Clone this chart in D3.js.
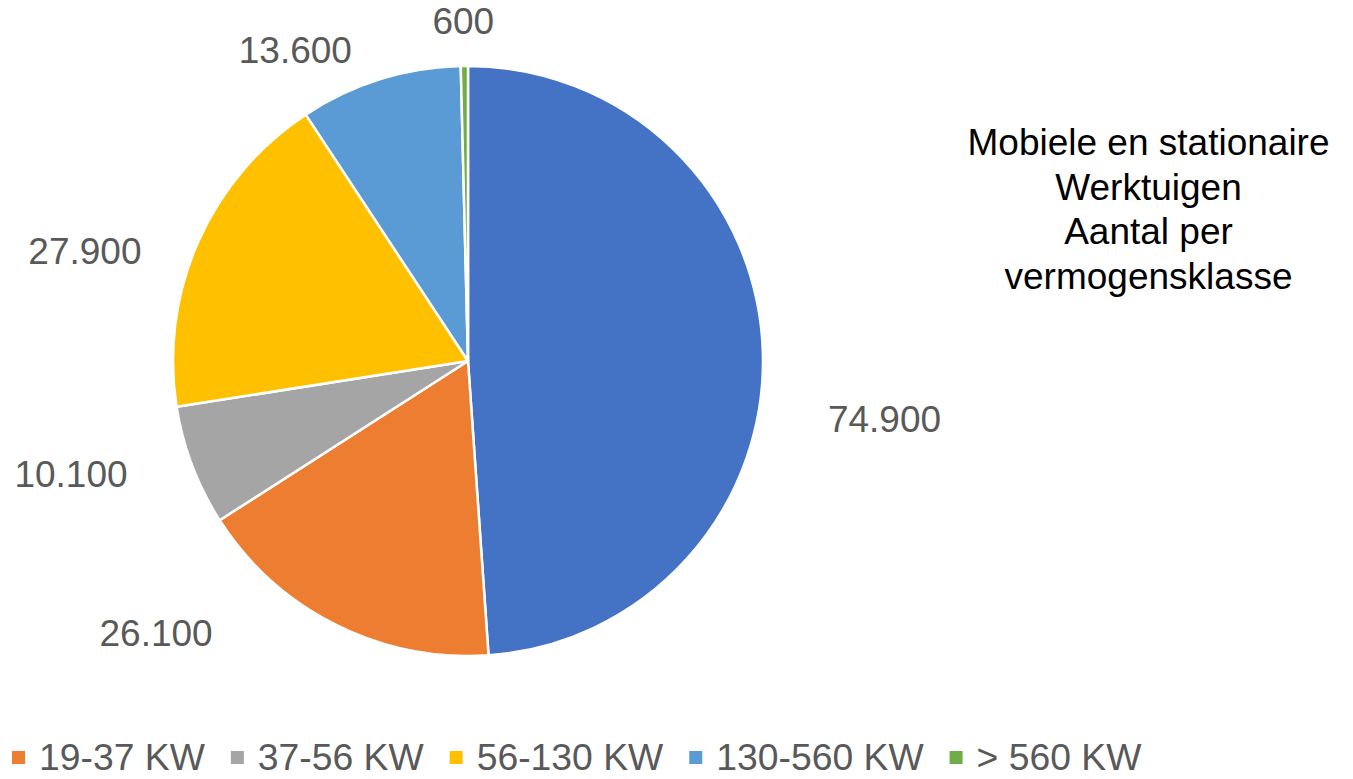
<!DOCTYPE html>
<html>
<head>
<meta charset="utf-8">
<script src="https://cdn.jsdelivr.net/npm/d3@7"></script>
<style>
  html, body { margin: 0; padding: 0; background: #fff; }
  svg { display: block; }
  text { font-family: "Liberation Sans", Arial, sans-serif; }
</style>
</head>
<body>
<svg id="chart" width="1353" height="779"></svg>
<script>
// ---- data ----
const categories = ["< 19 KW", "19-37 KW", "37-56 KW", "56-130 KW", "130-560 KW", "> 560 KW"];
const values = [74900, 26100, 10100, 27900, 13600, 600];
const valueLabels = ["74.900", "26.100", "10.100", "27.900", "13.600", "600"];
const legendCategories = ["19-37 KW", "37-56 KW", "56-130 KW", "130-560 KW", "> 560 KW"];
const titleLines = ["Mobiele en stationaire", "Werktuigen", "Aantal per", "vermogensklasse"];

// ---- layout / style ----
const colors = ["#4472C4", "#ED7D31", "#A5A5A5", "#FFC000", "#5B9BD5", "#70AD47"];
const cx = 468, cy = 361, radius = 295;
// label placement (angle in degrees clockwise from top, distance from centre)
const labelAngle = [97.9, 228.9, 254.1, 286.0, 331.0, 359.2];
const labelDist = [420.5, 413.9, 412.8, 398.5, 356.1, 339.5];

const svg = d3.select("#chart");
const color = d3.scaleOrdinal().domain(categories).range(colors);

const pie = d3.pie().sort(null).value(d => d.value).startAngle(0).endAngle(2 * Math.PI);
const data = categories.map((c, i) => ({ cat: c, value: values[i], label: valueLabels[i], i }));
const arcs = pie(data);
const arc = d3.arc().innerRadius(0).outerRadius(radius);

const g = svg.append("g").attr("transform", `translate(${cx},${cy})`);
g.selectAll("path.slice")
  .data(arcs)
  .join("path")
  .attr("class", "slice")
  .attr("d", arc)
  .attr("fill", d => color(d.data.cat))
  .attr("stroke", "#fff")
  .attr("stroke-width", 2.5)
  .attr("stroke-linejoin", "round");

// value labels
g.selectAll("text.val")
  .data(arcs)
  .join("text")
  .attr("class", "val")
  .attr("x", d => labelDist[d.index] * Math.sin(labelAngle[d.index] * Math.PI / 180))
  .attr("y", d => -labelDist[d.index] * Math.cos(labelAngle[d.index] * Math.PI / 180))
  .attr("dy", "0.35em")
  .attr("text-anchor", "middle")
  .attr("font-size", 37)
  .attr("fill", "#595959")
  .text(d => d.data.label);

// title
const title = svg.append("text")
  .attr("x", 1148.5)
  .attr("y", 155)
  .attr("text-anchor", "middle")
  .attr("font-size", 37)
  .attr("fill", "#000");
title.selectAll("tspan")
  .data(titleLines)
  .join("tspan")
  .attr("x", 1148.5)
  .attr("dy", (d, i) => i === 0 ? 0 : 44.5)
  .text(d => d);

// legend
const legend = svg.append("g").attr("class", "legend");
let lx = 12;
const markerSize = 13;
const legendBaseline = 770;
legendCategories.forEach(c => {
  legend.append("rect")
    .attr("x", lx)
    .attr("y", legendBaseline - 19)
    .attr("width", markerSize)
    .attr("height", markerSize)
    .attr("fill", color(c));
  const t = legend.append("text")
    .attr("x", lx + 27)
    .attr("y", legendBaseline)
    .attr("font-size", 37.3)
    .attr("fill", "#595959")
    .text(c);
  const w = t.node().getComputedTextLength();
  lx = lx + 27 + w + 26;
});
</script>
</body>
</html>
